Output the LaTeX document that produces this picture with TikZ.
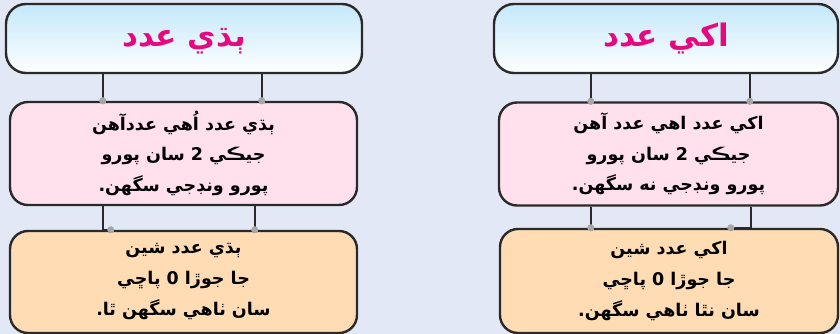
\documentclass[tikz,border=0pt]{standalone}
\usepackage{fontspec}
\TeXXeTstate=1
\newfontfamily\arabicfont[Script=Arabic]{DejaVu Sans}
\definecolor{bgc}{HTML}{E2E8F5}
\definecolor{titletop}{HTML}{C4E8FB}
\definecolor{titlebot}{HTML}{FFFFFF}
\definecolor{pinkbox}{HTML}{FFE0EC}
\definecolor{orangebox}{HTML}{FFDCB4}
\definecolor{edgec}{HTML}{2A2A2A}
\definecolor{titletext}{HTML}{E6087F}
\definecolor{dotc}{HTML}{A8A8A8}
\tikzset{
  basebox/.style={rectangle, draw=edgec, line width=2.4pt, rounded corners=18pt, align=center, inner sep=0pt},
  titlebox/.style={basebox, rounded corners=20pt, top color=titletop, bottom color=titlebot, font=\arabicfont\bfseries\fontsize{31}{36}\selectfont, text=titletext, minimum height=69pt},
  midbox/.style={basebox, fill=pinkbox, font=\arabicfont\bfseries\fontsize{17.5}{30.5}\selectfont, minimum height=103pt},
  lowbox/.style={basebox, fill=orangebox, font=\arabicfont\bfseries\fontsize{17.5}{31}\selectfont, minimum height=103pt},
  conn/.style={draw=edgec, line width=2pt},
  joint/.style={circle, fill=dotc, draw=gray!70, line width=0.5pt, inner sep=0pt, minimum size=6.5pt}
}
\begin{document}
\begin{tikzpicture}[x=1pt,y=-1pt]
\fill[bgc] (0,0) rectangle (840,334);
\useasboundingbox (0,0) rectangle (840,334);

\node[titlebox, minimum width=356pt] (tl) at (184,38.5) {\raisebox{-8pt}[0pt][0pt]{\beginR ٻڌي عدد\endR}};
\node[titlebox, minimum width=344pt] (tr) at (666,38.5) {\raisebox{-8pt}[0pt][0pt]{\beginR اکي عدد\endR}};

\node[midbox, minimum width=347pt] (ml) at (183.5,153.5)
  {\beginR ٻڌي عدد اُهي عددآهن\endR\\\beginR جيڪي 2 سان پورو\endR\\\beginR پورو ونڊجي سگهن.\endR};
\node[midbox, minimum width=339pt] (mr) at (668.5,154)
  {\beginR اکي عدد اهي عدد آهن\endR\\\beginR جيڪي 2 سان پورو\endR\\\beginR پورو ونڊجي نه سگهن.\endR};

\node[lowbox, minimum width=347pt, minimum height=102pt] (bl) at (183.5,282)
  {\beginR ٻڌي عدد شين\endR\\\beginR جا جوڙا 0 پاڇي\endR\\\beginR سان ٺاهي سگهن ٿا.\endR};
\node[lowbox, minimum width=338pt, minimum height=104pt] (br) at (669,281)
  {\beginR اکي عدد شين\endR\\\beginR جا جوڙا 0 پاڇي\endR\\\beginR سان نٿا ٺاهي سگهن.\endR};

% title -> middle
\draw[conn] ([xshift=98pt]tl.south west) -- ([xshift=94pt]ml.north west) node[joint] {};
\draw[conn] ([xshift=257pt]tl.south west) -- ([xshift=253pt]ml.north west) node[joint] {};
\draw[conn] ([xshift=98pt]tr.south west) -- ([xshift=93pt]mr.north west) node[joint] {};
\draw[conn] ([xshift=257pt]tr.south west) -- ([xshift=252pt]mr.north west) node[joint] {};

% middle -> bottom
\draw[conn] ([xshift=94pt]ml.south west) |- ([xshift=102pt]bl.north west) node[joint] {};
\draw[conn] ([xshift=246pt]ml.south west) |- ([xshift=246pt]bl.north west) node[joint] {};
\draw[conn] ([xshift=93pt]mr.south west) |- ([xshift=92pt]br.north west) node[joint] {};
\draw[conn] ([xshift=253pt]mr.south west) |- ([xshift=232pt]br.north west) node[joint] {};
\end{tikzpicture}
\end{document}
